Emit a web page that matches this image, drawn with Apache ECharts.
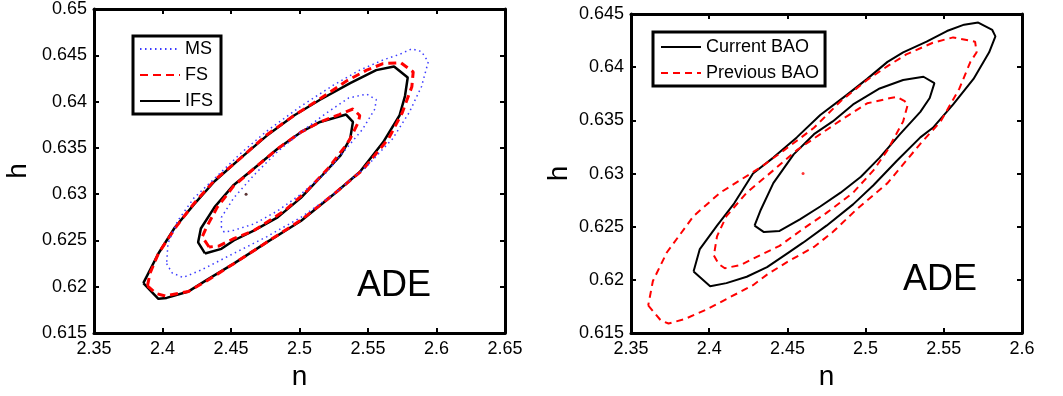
<!DOCTYPE html>
<html>
<head>
<meta charset="utf-8">
<script src="https://cdn.jsdelivr.net/npm/echarts@6/dist/echarts.min.js"></script>
<style>
  html, body { margin: 0; padding: 0; background: #fff; }
  #chart { width: 1063px; height: 396px; }
</style>
</head>
<body>
<div id="chart"></div>
<script>
// ---- left panel: MS / FS / IFS contours, [n, h] ----
const msOuter = [
  [2.403, 0.6225], [2.407, 0.6215], [2.415, 0.621], [2.428, 0.6218], [2.452, 0.6236],
  [2.476, 0.6254], [2.501, 0.6275], [2.525, 0.630], [2.549, 0.633], [2.568, 0.636],
  [2.580, 0.6388], [2.589, 0.6416], [2.594, 0.6443], [2.589, 0.6454], [2.582, 0.6457],
  [2.573, 0.6451], [2.561, 0.6445], [2.544, 0.6434], [2.525, 0.6418], [2.501, 0.6395],
  [2.476, 0.6368], [2.457, 0.6344], [2.438, 0.6317], [2.423, 0.6296], [2.411, 0.6271],
  [2.404, 0.6247], [2.403, 0.6225]
];
const msInner = [
  [2.443, 0.6264], [2.443, 0.6275], [2.452, 0.6296], [2.467, 0.6321], [2.484, 0.6346],
  [2.501, 0.6367], [2.520, 0.6388], [2.536, 0.6404], [2.549, 0.6408], [2.556, 0.6402],
  [2.555, 0.6392], [2.546, 0.637], [2.534, 0.6349], [2.520, 0.6324], [2.501, 0.630],
  [2.484, 0.6282], [2.467, 0.6268], [2.452, 0.6261], [2.445, 0.6259], [2.443, 0.6264]
];
const fsOuter = [
  [2.389, 0.6201], [2.395, 0.6193], [2.402, 0.619], [2.419, 0.6195], [2.433, 0.6207],
  [2.452, 0.6225], [2.476, 0.6248], [2.501, 0.6272], [2.525, 0.630], [2.546, 0.6326],
  [2.565, 0.636], [2.575, 0.6388], [2.582, 0.6416], [2.583, 0.6432], [2.574, 0.6442],
  [2.561, 0.6441], [2.549, 0.6434], [2.534, 0.6422], [2.515, 0.6403], [2.496, 0.6385],
  [2.476, 0.6364], [2.457, 0.6339], [2.438, 0.6315], [2.423, 0.629], [2.410, 0.6265],
  [2.397, 0.6236], [2.391, 0.6215], [2.389, 0.6201]
];
const fsInner = [
  [2.434, 0.6243], [2.429, 0.6254], [2.432, 0.6264], [2.440, 0.6286], [2.452, 0.6309],
  [2.467, 0.6328], [2.484, 0.6349], [2.501, 0.6367], [2.515, 0.6378], [2.529, 0.6386],
  [2.539, 0.6392], [2.544, 0.6385], [2.543, 0.6378], [2.537, 0.636], [2.534, 0.6353],
  [2.521, 0.6328], [2.505, 0.6303], [2.489, 0.6282], [2.467, 0.6261], [2.452, 0.6252],
  [2.441, 0.6244], [2.434, 0.6243]
];
const ifsOuter = [
  [2.386, 0.6204], [2.397, 0.6187], [2.403, 0.6188], [2.419, 0.6195], [2.433, 0.6208],
  [2.452, 0.6225], [2.476, 0.6248], [2.501, 0.6271], [2.525, 0.630], [2.544, 0.6324],
  [2.561, 0.6356], [2.573, 0.6385], [2.577, 0.6406], [2.579, 0.6426], [2.569, 0.6438],
  [2.556, 0.6434], [2.537, 0.642], [2.515, 0.6402], [2.496, 0.6385], [2.476, 0.6363],
  [2.457, 0.6339], [2.438, 0.6314], [2.423, 0.6289], [2.409, 0.6264], [2.397, 0.6236],
  [2.386, 0.6204]
];
const ifsInner = [
  [2.431, 0.6236], [2.426, 0.6248], [2.428, 0.6263], [2.438, 0.6286], [2.452, 0.631],
  [2.467, 0.6328], [2.484, 0.6349], [2.501, 0.6367], [2.515, 0.6378], [2.534, 0.6386],
  [2.539, 0.6378], [2.537, 0.636], [2.530, 0.6342], [2.517, 0.6321], [2.501, 0.6296],
  [2.484, 0.6275], [2.467, 0.6261], [2.452, 0.625], [2.443, 0.6241], [2.431, 0.6236]
];
const leftBest = [[2.461, 0.630]];

// ---- right panel: current vs previous BAO ----
const curOuter = [
  [2.390, 0.6208], [2.4006, 0.6194], [2.411, 0.6197], [2.424, 0.6203], [2.437, 0.6212],
  [2.450, 0.6225], [2.460, 0.6235], [2.475, 0.6251], [2.492, 0.6271], [2.505, 0.6289],
  [2.520, 0.6312], [2.535, 0.6334], [2.543, 0.6343], [2.556, 0.6365], [2.569, 0.6389],
  [2.579, 0.6414], [2.583, 0.6429], [2.581, 0.6435], [2.572, 0.6442], [2.563, 0.644],
  [2.552, 0.6434], [2.539, 0.6424], [2.524, 0.6414], [2.514, 0.6405], [2.501, 0.6389],
  [2.488, 0.6374], [2.471, 0.6355], [2.456, 0.6334], [2.441, 0.6315], [2.428, 0.630],
  [2.416, 0.6272], [2.405, 0.6251], [2.394, 0.6229], [2.390, 0.6208]
];
const curInner = [
  [2.429, 0.6251], [2.435, 0.6245], [2.445, 0.6246], [2.458, 0.6257], [2.471, 0.6269],
  [2.484, 0.6282], [2.497, 0.6297], [2.509, 0.6315], [2.522, 0.6337], [2.535, 0.6358],
  [2.541, 0.6371], [2.544, 0.6385], [2.537, 0.6391], [2.524, 0.6388], [2.509, 0.638],
  [2.492, 0.6365], [2.479, 0.6349], [2.467, 0.6337], [2.454, 0.6318], [2.441, 0.6291],
  [2.433, 0.6266], [2.429, 0.6251]
];
const prevOuter = [
  [2.361, 0.6176], [2.369, 0.6162], [2.374, 0.6159], [2.384, 0.6163], [2.398, 0.6172],
  [2.411, 0.6182], [2.428, 0.6195], [2.437, 0.6205], [2.450, 0.6217], [2.467, 0.6231],
  [2.479, 0.6245], [2.494, 0.6266], [2.514, 0.6291], [2.535, 0.6328], [2.548, 0.6349],
  [2.560, 0.638], [2.567, 0.6405], [2.571, 0.6414], [2.570, 0.6424], [2.556, 0.6428],
  [2.543, 0.6423], [2.526, 0.6412], [2.514, 0.6401], [2.501, 0.6388], [2.484, 0.6368],
  [2.467, 0.6343], [2.448, 0.6322], [2.433, 0.6306], [2.407, 0.6282], [2.390, 0.626],
  [2.373, 0.6226], [2.364, 0.6199], [2.361, 0.6176]
];
const prevInner = [
  [2.403, 0.6223], [2.406, 0.6215], [2.410, 0.6211], [2.420, 0.6214], [2.435, 0.6225],
  [2.445, 0.6232], [2.460, 0.6248], [2.475, 0.6263], [2.492, 0.6282], [2.505, 0.6303],
  [2.514, 0.6322], [2.524, 0.6349], [2.527, 0.6365], [2.525, 0.6368], [2.520, 0.6372],
  [2.516, 0.6371], [2.501, 0.6366], [2.486, 0.6352], [2.471, 0.6337], [2.456, 0.6322],
  [2.441, 0.6303], [2.424, 0.6282], [2.411, 0.626], [2.405, 0.6241], [2.403, 0.6223]
];
const rightBest = [[2.46, 0.630]];

const leftLegend = ["MS", "FS", "IFS"];
const rightLegend = ["Current BAO", "Previous BAO"];

const FONT = "Liberation Sans, Arial, Helvetica, sans-serif";
const fmt = (v) => String(+v.toFixed(3));

const frameAxis = (extra) => Object.assign({
  type: "value",
  axisLine: { show: true, onZero: false, lineStyle: { color: "#000", width: 3 } },
  axisTick: { show: true, inside: true, length: 5, lineStyle: { color: "#000", width: 2 } },
  splitLine: { show: false },
}, extra);

const shownLabel = { show: true, color: "#000", fontSize: 18, fontFamily: FONT, formatter: fmt, margin: 7 };
const hiddenLabel = { show: false };
const nameStyle = { fontSize: 28, color: "#000", fontFamily: FONT };

const chart = echarts.init(document.getElementById("chart"), null, { renderer: "canvas" });

const line = (name, data, xi, yi, style) => ({
  name, type: "line", data, xAxisIndex: xi, yAxisIndex: yi,
  symbol: "none", smooth: false, animation: false,
  lineStyle: style, itemStyle: { color: style.color }, z: 3,
});

const msStyle = { color: "#3b3bff", width: 1.5, type: [1.5, 3.5] };
const fsStyle = { color: "#ff0000", width: 3, type: [8, 5] };
const ifsStyle = { color: "#000000", width: 2.5, type: "solid" };
const curStyle = { color: "#000000", width: 2, type: "solid" };
const prevStyle = { color: "#ff0000", width: 2, type: [7, 5] };

const options = {
  animation: false,
  textStyle: { fontFamily: FONT },
  grid: [
    { left: 94, top: 8, width: 411, height: 330 },
    { left: 631, top: 14, width: 391, height: 325 },
  ],
  xAxis: [
    frameAxis({ gridIndex: 0, position: "bottom", min: 2.35, max: 2.65, interval: 0.05, axisLabel: shownLabel,
      name: "n", nameLocation: "middle", nameGap: 21, nameTextStyle: nameStyle }),
    frameAxis({ gridIndex: 0, position: "top", min: 2.35, max: 2.65, interval: 0.05, axisLabel: hiddenLabel }),
    frameAxis({ gridIndex: 1, position: "bottom", min: 2.35, max: 2.6, interval: 0.05, axisLabel: shownLabel,
      name: "n", nameLocation: "middle", nameGap: 21, nameTextStyle: nameStyle }),
    frameAxis({ gridIndex: 1, position: "top", min: 2.35, max: 2.6, interval: 0.05, axisLabel: hiddenLabel }),
  ],
  yAxis: [
    frameAxis({ gridIndex: 0, position: "left", min: 0.615, max: 0.65, interval: 0.005, axisLabel: shownLabel,
      name: "h", nameLocation: "middle", nameGap: 62, nameTextStyle: nameStyle }),
    frameAxis({ gridIndex: 0, position: "right", min: 0.615, max: 0.65, interval: 0.005, axisLabel: hiddenLabel }),
    frameAxis({ gridIndex: 1, position: "left", min: 0.615, max: 0.645, interval: 0.005, axisLabel: shownLabel,
      name: "h", nameLocation: "middle", nameGap: 58, nameTextStyle: nameStyle }),
    frameAxis({ gridIndex: 1, position: "right", min: 0.615, max: 0.645, interval: 0.005, axisLabel: hiddenLabel }),
  ],
  legend: [
    {
      data: leftLegend, orient: "vertical", left: 133, top: 36,
      padding: [4, 8, 4, 6], itemGap: 8, itemWidth: 40, itemHeight: 14,
      borderColor: "#000", borderWidth: 3, backgroundColor: "#fff",
      itemStyle: { opacity: 0 },
      textStyle: { fontSize: 18, color: "#000", fontFamily: FONT },
      selectedMode: false,
    },
    {
      data: rightLegend, orient: "vertical", left: 653, top: 32,
      padding: [6, 6, 4, 7], itemGap: 8, itemWidth: 40, itemHeight: 14,
      borderColor: "#000", borderWidth: 3, backgroundColor: "#fff",
      itemStyle: { opacity: 0 },
      textStyle: { fontSize: 18, color: "#000", fontFamily: FONT },
      selectedMode: false,
    },
  ],
  graphic: [
    { type: "text", left: 357, top: 268, z: 10,
      style: { text: "ADE", fontSize: 36, fontFamily: FONT, fill: "#000" } },
    { type: "text", left: 903, top: 262, z: 10,
      style: { text: "ADE", fontSize: 36, fontFamily: FONT, fill: "#000" } },
  ],
  series: [
    line("IFS", ifsOuter, 0, 0, ifsStyle),
    line("IFS", ifsInner, 0, 0, ifsStyle),
    line("FS", fsOuter, 0, 0, fsStyle),
    line("FS", fsInner, 0, 0, fsStyle),
    line("MS", msOuter, 0, 0, msStyle),
    line("MS", msInner, 0, 0, msStyle),
    { type: "scatter", data: leftBest, xAxisIndex: 0, yAxisIndex: 0, symbolSize: 3,
      itemStyle: { color: "#300" }, z: 4, animation: false },
    line("Current BAO", curOuter, 2, 2, curStyle),
    line("Current BAO", curInner, 2, 2, curStyle),
    line("Previous BAO", prevOuter, 2, 2, prevStyle),
    line("Previous BAO", prevInner, 2, 2, prevStyle),
    { type: "scatter", data: rightBest, xAxisIndex: 2, yAxisIndex: 2, symbolSize: 3,
      itemStyle: { color: "#f00" }, z: 4, animation: false },
  ],
};

chart.setOption(options);
</script>
</body>
</html>
